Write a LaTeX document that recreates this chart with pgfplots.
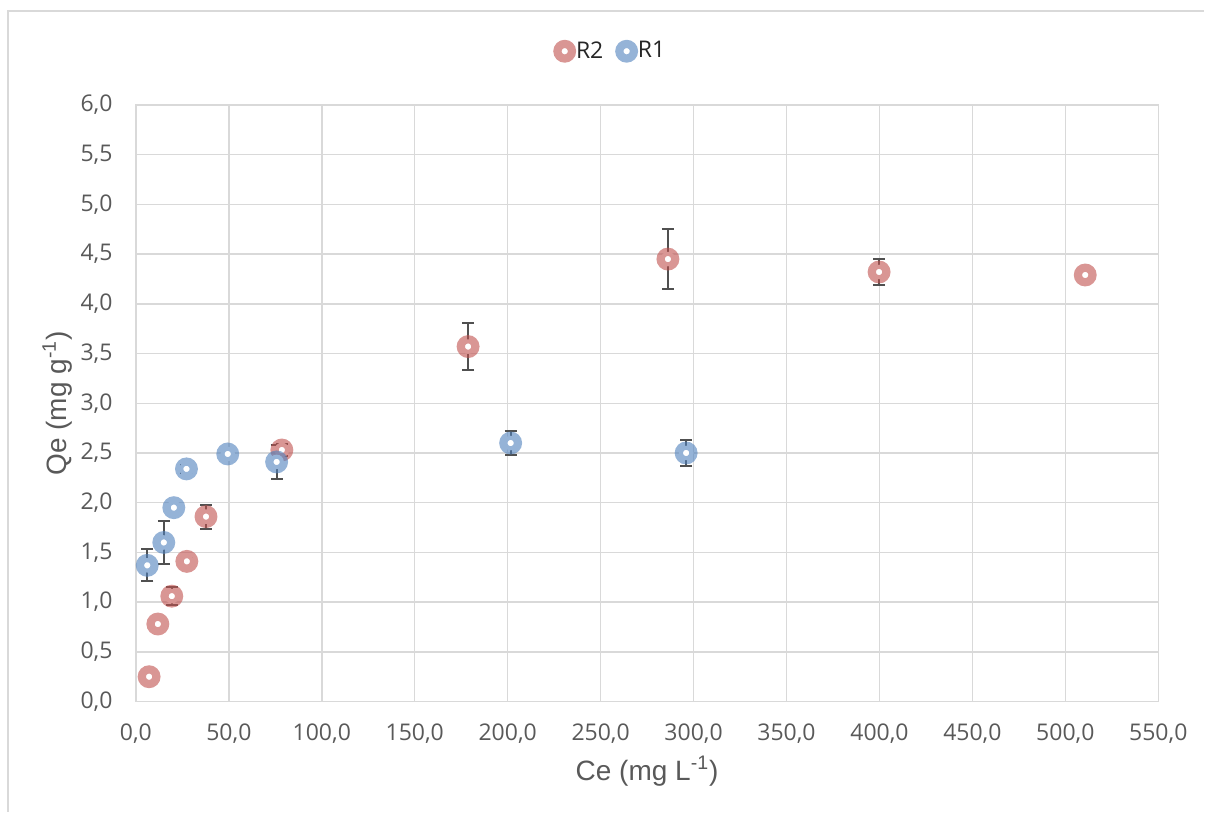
\documentclass[border=0pt]{standalone}
\usepackage{fontspec}
\setmainfont{Open Sans}
\newfontfamily\arial{Liberation Sans}
\usepackage{pgfplots}
\usepackage{pgfplotstable}
\pgfplotsset{compat=1.18}
\definecolor{rtwo}{HTML}{C0504D}
\definecolor{rone}{HTML}{4F81BD}
\definecolor{gridc}{HTML}{D9D9D9}
\definecolor{txt}{HTML}{595959}
\definecolor{errc}{HTML}{505050}

\pgfplotstableread{
x y e
7.1 0.25 0.015
11.8 0.78 0.01
19.3 1.06 0.09
27.4 1.41 0.03
37.7 1.86 0.12
78.5 2.53 0.06
178.7 3.57 0.24
286.2 4.45 0.30
399.8 4.32 0.13
510.7 4.29 0.01
}\dataRtwo

\pgfplotstableread{
x y e
6.1 1.37 0.16
15.0 1.60 0.22
20.4 1.95 0.015
27.2 2.34 0.04
49.4 2.49 0.01
75.7 2.41 0.17
201.6 2.60 0.12
296.0 2.50 0.13
}\dataRone

\begin{document}
\begin{tikzpicture}
\path (0pt,0pt) rectangle (602.5pt,406pt);
\draw[gridc, line width=0.75pt] (4pt,0pt) -- (4pt,400.5pt) -- (602.5pt,400.5pt);
\begin{axis}[
  at={(68pt,55pt)}, anchor=south west,
  scale only axis, width=511.5pt, height=298.5pt,
  xmin=0, xmax=550, ymin=0, ymax=6,
  xtick={0,50,...,550}, ytick={0,0.5,...,6},
  grid=major, major grid style={gridc, line width=0.75pt},
  axis line style={gridc, line width=0.75pt},
  major tick length=0pt,
  tick label style={font=\fontsize{11.5}{13}\selectfont, text=txt},
  xticklabel style={anchor=north, yshift=-7.7pt},
  yticklabel style={anchor=east, xshift=-8.2pt},
  /pgf/number format/fixed,
  /pgf/number format/fixed zerofill,
  /pgf/number format/precision=1,
  /pgf/number format/use comma,
  /pgf/number format/assume math mode=true,
  xlabel={Ce (mg L\textsuperscript{-1})},
  ylabel={Qe (mg g\textsuperscript{-1})},
  every axis x label/.style={at={(axis description cs:0.5,-0.117)}, anchor=center, font=\arial\fontsize{14}{16}\selectfont, text=txt},
  every axis y label/.style={at={(axis description cs:-0.077,0.5)}, anchor=center, rotate=90, font=\arial\fontsize{14}{16}\selectfont, text=txt},
  legend style={at={(axis description cs:0.467,1.090)}, anchor=center, draw=none, fill=none,
    font=\fontsize{11.5}{13}\selectfont, text=black!85, /tikz/every even column/.append style={column sep=6pt}},
  legend columns=2,
  legend image code/.code={\draw[mark repeat=1,mark phase=1,#1] plot coordinates {(0pt,0pt)};},
]
\addplot[only marks, mark=*, mark size=3.65pt, mark options={draw=rtwo, draw opacity=0.6, fill=white, line width=4.1pt}]
  table[x=x,y=y] {\dataRtwo};
\addlegendentry{R2}
\addplot[only marks, mark=*, mark size=3.65pt, mark options={draw=rone, draw opacity=0.6, fill=white, line width=4.1pt}]
  table[x=x,y=y] {\dataRone};
\addlegendentry{R1}
\addplot[draw=none, mark=none, forget plot,
  error bars/.cd, y dir=both, y explicit,
  error bar style={draw=errc, line width=1pt},
  error mark options={rotate=90, mark size=3pt, line width=1pt, draw=errc}]
  table[x=x,y=y,y error=e] {\dataRtwo};
\addplot[draw=none, mark=none, forget plot,
  error bars/.cd, y dir=both, y explicit,
  error bar style={draw=errc, line width=1pt},
  error mark options={rotate=90, mark size=3pt, line width=1pt, draw=errc}]
  table[x=x,y=y,y error=e] {\dataRone};
\end{axis}
\end{tikzpicture}
\end{document}
